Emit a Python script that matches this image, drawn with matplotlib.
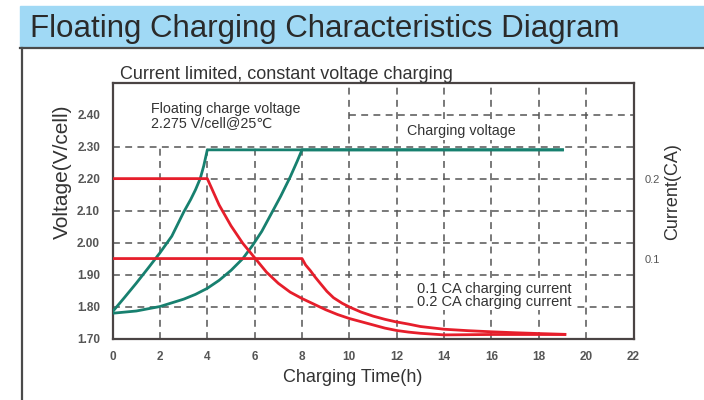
import matplotlib
matplotlib.use("Agg")
import matplotlib.pyplot as plt
from matplotlib.patches import Rectangle
from matplotlib.lines import Line2D

plt.rcParams['font.family'] = ['Liberation Sans', 'DejaVu Sans']

# voltage curves (V/cell) vs charging time (h)
t_v02 = [0, 0.5, 1, 1.5, 2, 2.5, 3, 3.3, 3.5, 3.7, 3.85, 4.0, 19.0]
v_v02 = [1.784, 1.828, 1.873, 1.92, 1.968, 2.02, 2.095, 2.135, 2.165, 2.20, 2.24, 2.29, 2.29]

t_v01 = [0, 1, 2, 3, 3.5, 4, 4.5, 5, 5.5, 5.9, 6.3, 6.7, 7.1, 7.5, 7.8, 8.0, 19.0]
v_v01 = [1.779, 1.786, 1.80, 1.823, 1.838, 1.857, 1.882, 1.913, 1.95, 1.99, 2.035, 2.09,
         2.145, 2.205, 2.255, 2.29, 2.29]

# current curves (CA) vs charging time (h)
t_i02 = [0, 4, 4.5, 5, 5.5, 6, 6.5, 7, 7.5, 8, 8.5, 9, 9.5, 10, 10.5, 11, 11.5, 12,
         12.5, 13, 14, 16, 19.1]
i_i02 = [0.2, 0.2, 0.167, 0.141, 0.119, 0.101, 0.083, 0.069, 0.058, 0.05, 0.043, 0.036,
         0.03, 0.025, 0.021, 0.017, 0.013, 0.010, 0.008, 0.0065, 0.0045, 0.005, 0.005]

t_i01 = [0, 8, 8.15, 8.35, 8.55, 8.77, 9.05, 9.33, 9.7, 10.03, 10.5, 11, 11.5, 11.94,
         12.5, 13, 14, 15, 16, 17, 18, 19.1]
i_i01 = [0.1, 0.1, 0.092, 0.085, 0.077, 0.069, 0.059, 0.051, 0.044, 0.039, 0.033, 0.028,
         0.024, 0.021, 0.018, 0.015, 0.0116, 0.0098, 0.0084, 0.0072, 0.0062, 0.0052]

x_ticks = [0, 2, 4, 6, 8, 10, 12, 14, 16, 18, 20, 22]
y_ticks = [1.70, 1.80, 1.90, 2.00, 2.10, 2.20, 2.30, 2.40]
i_ticks = [0.1, 0.2]

green = '#17806f'
red = '#e61e2b'
gridc = '#555555'
txtc = '#333333'

fig = plt.figure(figsize=(7.04, 4.0), dpi=100)

# header band and frame
fig.patches.append(Rectangle((20/704, 1-47/400), 684/704, 41/400,
                             transform=fig.transFigure, color='#a0d9f5', zorder=0))
fig.add_artist(Line2D([20/704, 1], [1-47.5/400, 1-47.5/400], color='#4a4a4a', lw=1.6))
fig.add_artist(Line2D([21.5/704, 21.5/704], [0, 1-47.5/400], color='#4a4a4a', lw=1.6))
fig.text(30/704, 1-37/400, 'Floating Charging Characteristics Diagram',
         fontsize=22.5, color='#2a2a2a', va='baseline')

ax = fig.add_axes([112.6/704, 1-338.5/400, (633.5-112.6)/704, (338.5-82.7)/400])
ax.set_xlim(0, 22)
ax.set_ylim(1.70, 2.50)

# dashed grid, partly left out behind the annotation at top left
dash = dict(color=gridc, lw=1.1, ls=(0, (4.5, 3.5)), zorder=1)
for y in y_ticks[1:7]:
    ax.plot([0, 22], [y, y], **dash)
ax.plot([10, 22], [2.40, 2.40], **dash)
for x in x_ticks[1:11]:
    top = 2.30 if x < 10 else 2.50
    ax.plot([x, x], [1.70, top], **dash)

ax.plot(t_v02, v_v02, color=green, lw=2.0, zorder=3)
ax.plot(t_v01, v_v01, color=green, lw=2.0, zorder=3)

ax.set_xticks(x_ticks)
ax.set_yticks(y_ticks)
ax.set_yticklabels(['%.2f' % v for v in y_ticks])
ax.tick_params(length=0, labelsize=8.5, labelcolor='#555555', pad=9)
ax.tick_params(axis='x', pad=9)
for lab in ax.get_xticklabels() + ax.get_yticklabels():
    lab.set_fontweight('bold')
for s in ax.spines.values():
    s.set_color('#4a4444')
    s.set_linewidth(1.6)

ax2 = ax.twinx()
ax2.set_ylim(0, 0.32)
ax2.set_yticks(i_ticks)
ax2.set_yticklabels(['0.1', '0.2'])
ax2.tick_params(length=0, labelsize=8, labelcolor='#555555', pad=8)
ax2.spines[:].set_visible(False)
ax2.plot(t_i02, i_i02, color=red, lw=2.0, zorder=3)
ax2.plot(t_i01, i_i01, color=red, lw=2.0, zorder=3)

ax.text(1.62, 2.44, 'Floating charge voltage\n2.275 V/cell@25\u2103', fontsize=10.3,
        color=txtc, va='top', linespacing=1.0, zorder=4)
ax.text(12.44, 2.348, 'Charging voltage', fontsize=10.3, color=txtc, va='center', zorder=4,
        bbox=dict(fc='white', ec='none', pad=1.5))
ax.text(12.86, 1.834, '0.1 CA charging current\n0.2 CA charging current', fontsize=10.5,
        color=txtc, va='center', linespacing=0.92, zorder=4,
        bbox=dict(fc='white', ec='none', pad=0.8))

fig.text(120/704, 1-79/400, 'Current limited, constant voltage charging',
         fontsize=13, color=txtc, va='baseline')
fig.text(353/704, 1-378/400, 'Charging Time(h)', fontsize=13, color=txtc,
         ha='center', va='center')
fig.text(62/704, 1-172/400, 'Voltage(V/cell)', fontsize=15, color=txtc,
         ha='center', va='center', rotation=90)
fig.text(673/704, 1-192/400, 'Current(CA)', fontsize=13, color=txtc,
         ha='center', va='center', rotation=90)

fig.savefig('out.png', dpi=100)
